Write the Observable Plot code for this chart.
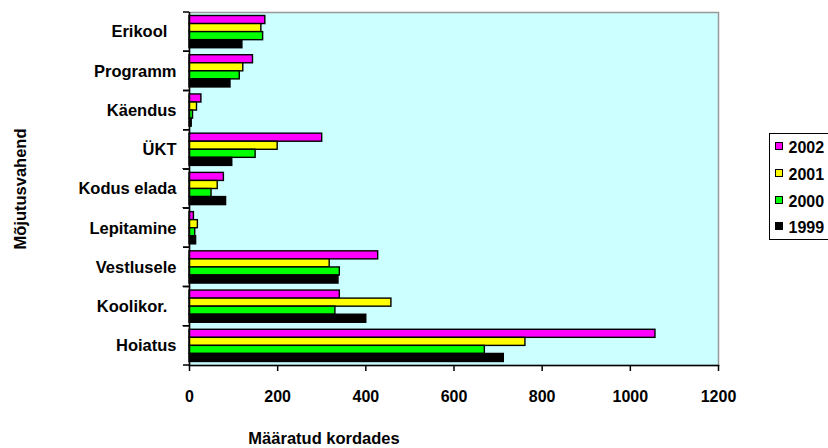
<!DOCTYPE html>
<html><head><meta charset="utf-8">
<script src="https://cdn.jsdelivr.net/npm/d3@7"></script>
<script src="https://cdn.jsdelivr.net/npm/@observablehq/plot@0.6"></script>
<style>
body{margin:0;background:#fff;font-family:"Liberation Sans",Arial,sans-serif;}
#wrap{position:relative;width:828px;height:448px;overflow:hidden;}
#legend{position:absolute;left:769px;top:133px;width:80px;height:107px;border:1.5px solid #000;box-sizing:border-box;background:#fff;font-weight:bold;font-size:16px;}
#legend .it{position:absolute;left:4.5px;height:18px;line-height:18px;white-space:nowrap;}
#legend .sw{display:inline-block;box-sizing:border-box;width:8px;height:8px;border:1.5px solid #000;margin-right:6px;position:relative;top:-3px;}
</style></head><body><div id="wrap"></div>
<script>
const categories = ["Erikool ","Programm","Käendus","ÜKT","Kodus elada","Lepitamine","Vestlusele","Koolikor. ","Hoiatus"];
const years = ["2002","2001","2000","1999"];
const colors = ["#ff00ff","#ffff00","#00ff00","#000000"];
const v2002 = [172,144,27,301,78,10,428,341,1057];
const v2001 = [163,122,17,200,64,19,318,458,762];
const v2000 = [167,114,8,150,50,13,341,331,670];
const v1999 = [120,93,5,97,83,15,338,401,713];
const xTicks = [0,200,400,600,800,1000,1200];
const xTitle = "Määratud kordades";
const yTitle = "Mõjutusvahend";

const series = [v2002, v2001, v2000, v1999];
const rows = years.map((yr, k) => categories.map((c, i) => ({category: c, year: yr, value: series[k][i]})));

const marginTop = 12, marginBottom = 83;
const bw = (448 - marginTop - marginBottom) / categories.length;
const pad = 3.5, step = (bw - 2 * pad) / years.length;

const barMarks = rows.map((data, k) => Plot.barX(data, {
  x: "value", y: "category", fill: colors[k], stroke: "#000", strokeWidth: 1.4,
  insetTop: pad + step * k, insetBottom: bw - pad - step * (k + 1)
}));

const chart = Plot.plot({
  width: 828, height: 448,
  marginLeft: 189, marginRight: 110, marginTop, marginBottom,
  style: {fontFamily: "Liberation Sans, Arial, sans-serif", fontWeight: "bold", color: "#000", background: "transparent", overflow: "visible"},
  x: {domain: [0, 1200]},
  y: {domain: categories, padding: 0, round: false},
  marks: [
    Plot.frame({fill: "#ccffff", stroke: "#999", strokeWidth: 1.5}),
    ...barMarks,
    Plot.ruleX([0], {stroke: "#000", strokeWidth: 1.5}),
    Plot.frame({anchor: "bottom", stroke: "#000", strokeWidth: 1.5}),
    Plot.barX(categories, {x1: 0, x2: 0, y: d => d, insetLeft: -6, fill: "none", stroke: "#000", strokeWidth: 1.5, strokeDasharray: `6 ${bw}`}),
    Plot.axisY({tickSize: 0, tickPadding: 13, label: null, fontSize: 16.5, fontWeight: "bold", tickFormat: d => d.replace(/ $/, "\u00a0\u00a0")}),
    Plot.axisX({ticks: xTicks, tickFormat: d3.format("d"), tickSize: 6, tickPadding: 19, label: null, strokeWidth: 1.5, fontSize: 16, fontWeight: "bold"}),
    Plot.text([xTitle], {frameAnchor: "bottom", text: d => d, textAnchor: "middle", dx: -130, dy: 78, fontSize: 16.5, fontWeight: "bold"}),
    Plot.text([yTitle], {frameAnchor: "left", text: d => d, textAnchor: "middle", rotate: -90, dx: -169, fontSize: 16.5, fontWeight: "bold"})
  ]
});
const wrap = document.getElementById("wrap");
wrap.appendChild(chart);

const legend = document.createElement("div");
legend.id = "legend";
const tops = [5, 32, 59, 85];
years.forEach((yr, k) => {
  const it = document.createElement("div");
  it.className = "it";
  it.style.top = tops[k] + "px";
  it.innerHTML = `<span class="sw" style="background:${colors[k]}"></span>${yr}`;
  legend.appendChild(it);
});
wrap.appendChild(legend);
</script>
</body></html>
